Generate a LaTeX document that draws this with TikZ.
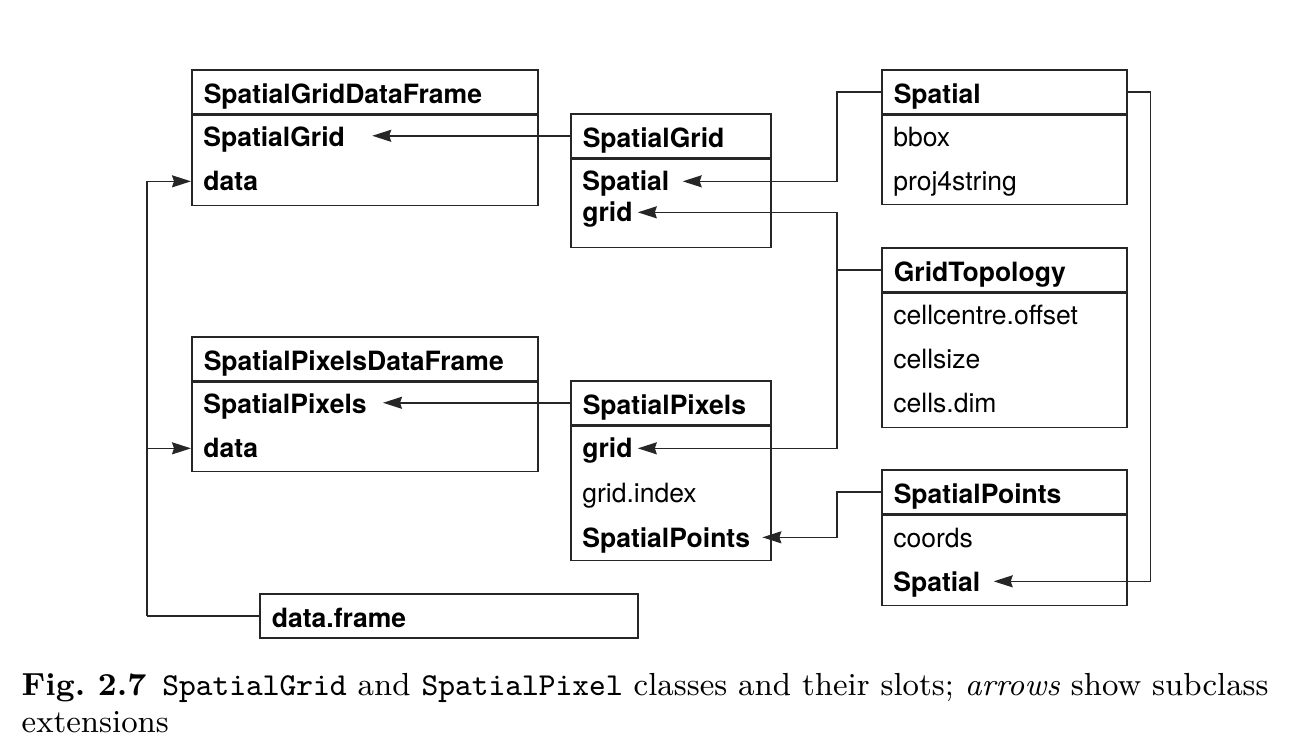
\documentclass[tikz,border=0pt]{standalone}
\usepackage{fontspec}
\newfontfamily\heros{TeX Gyre Heros}
\usetikzlibrary{arrows.meta}
\tikzset{
  head/.style={draw=black!85, line width=0.9pt, anchor=north west, inner xsep=0.24cm, inner ysep=0pt,
    minimum height=0.88cm, align=left, text height=13.7pt, text depth=0pt,
    font=\heros\bfseries\fontsize{15.1}{18}\selectfont},
  body/.style={draw=black!85, line width=0.9pt, anchor=north west, inner sep=0pt},
  slot/.style={anchor=base west, inner sep=0pt, text height=11pt, text depth=0pt,
    font=\heros\fontsize{15.1}{18}\selectfont},
  bslot/.style={slot, font=\heros\bfseries\fontsize{15.1}{18}\selectfont},
  arr/.style={-{Stealth[length=0.38cm,width=0.24cm,inset=0.04cm]}},
  conn/.style={draw=black!85, line width=0.9pt},
}
\begin{document}
\begin{tikzpicture}[x=0.02cm, y=-0.02cm]
\useasboundingbox (0,0) rectangle (1314,756);
\node[head, text width=6.44cm] (sgdf) at (191,69) {SpatialGridDataFrame};
\node[body, minimum width=6.92cm, minimum height=1.8cm] (sgdf-body) at (sgdf.south west) {};
\node[bslot] (sgdf-grid) at (203,147) {SpatialGrid};
\node[bslot] (sgdf-data) at (203,191) {data};
\node[head, text width=3.52cm] (sg) at (570,113) {SpatialGrid};
\node[body, minimum width=4cm, minimum height=1.76cm] (sg-body) at (sg.south west) {};
\node[bslot] (sg-spatial) at (582,191) {Spatial};
\node[bslot] (sg-grid) at (582,222) {grid};
\node[head, text width=4.42cm] (spatial) at (881,69) {Spatial};
\node[body, minimum width=4.9cm, minimum height=1.78cm] (spatial-body) at (spatial.south west) {};
\node[slot] (spatial-bbox) at (893,147) {bbox};
\node[slot] (spatial-proj) at (893,191) {proj4string};
\node[head, text width=4.42cm] (gt) at (881,247) {GridTopology};
\node[body, minimum width=4.9cm, minimum height=2.68cm] (gt-body) at (gt.south west) {};
\node[slot] (gt-offset) at (893,325) {cellcentre.offset};
\node[slot] (gt-size) at (893,369) {cellsize};
\node[slot] (gt-dim) at (893,413) {cells.dim};
\node[head, text width=6.44cm] (spdf) at (191,336) {SpatialPixelsDataFrame};
\node[body, minimum width=6.92cm, minimum height=1.78cm] (spdf-body) at (spdf.south west) {};
\node[bslot] (spdf-pixels) at (203,414) {SpatialPixels};
\node[bslot] (spdf-data) at (203,458) {data};
\node[head, text width=3.52cm] (sp) at (570,380) {SpatialPixels};
\node[body, minimum width=4cm, minimum height=2.68cm] (sp-body) at (sp.south west) {};
\node[bslot] (sp-grid) at (582,458) {grid};
\node[slot] (sp-index) at (582,502) {grid.index};
\node[bslot] (sp-points) at (582,547) {SpatialPoints};
\node[head, text width=4.42cm] (spoints) at (881,469) {SpatialPoints};
\node[body, minimum width=4.9cm, minimum height=1.8cm] (spoints-body) at (spoints.south west) {};
\node[slot] (spoints-coords) at (893,547) {coords};
\node[bslot] (spoints-spatial) at (893,591) {Spatial};
\node[head, text width=7.08cm] (df) at (259,593) {data.frame};
\draw[conn, arr] (sg.west) -- ([xshift=0.54cm]sgdf-grid.east |- sg.west);
\draw[conn, arr] (sp.west) -- ([xshift=0.32cm]spdf-pixels.east |- sp.west);
\draw[conn, arr] (spatial.west) -- ++(-44,0) |- ([xshift=0.26cm]sg-spatial.east);
\draw[conn] (gt.west) -- ++(-44,0) coordinate (gtj);
\draw[conn, arr] (gtj) |- ([xshift=0.1cm]sg-grid.east);
\draw[conn, arr] (gtj) |- ([xshift=0.1cm]sp-grid.east);
\draw[conn, arr] (spoints.west) -- ++(-44,0) |- ([xshift=0.24cm]sp-points.east);
\draw[conn, arr] (spatial.east) -- ++(23,0) |- ([xshift=0.26cm]spoints-spatial.east);
\draw[conn] (df.west) -- ++(-112,0) coordinate (dfj);
\draw[conn, arr] (dfj) |- (sgdf-body.west |- sgdf-data);
\draw[conn, arr] (dfj) |- (spdf-body.west |- spdf-data);
\node[anchor=base west, inner sep=0pt, align=left, scale=2.02, transform shape,
  font=\fontsize{9}{10.42}\selectfont] (caption) at (21,732)
  {\textbf{Fig.\ 2.7}\enspace\texttt{SpatialGrid} and \texttt{SpatialPixel} classes and their slots; \emph{arrows} show subclass\\extensions};
\end{tikzpicture}
\end{document}
